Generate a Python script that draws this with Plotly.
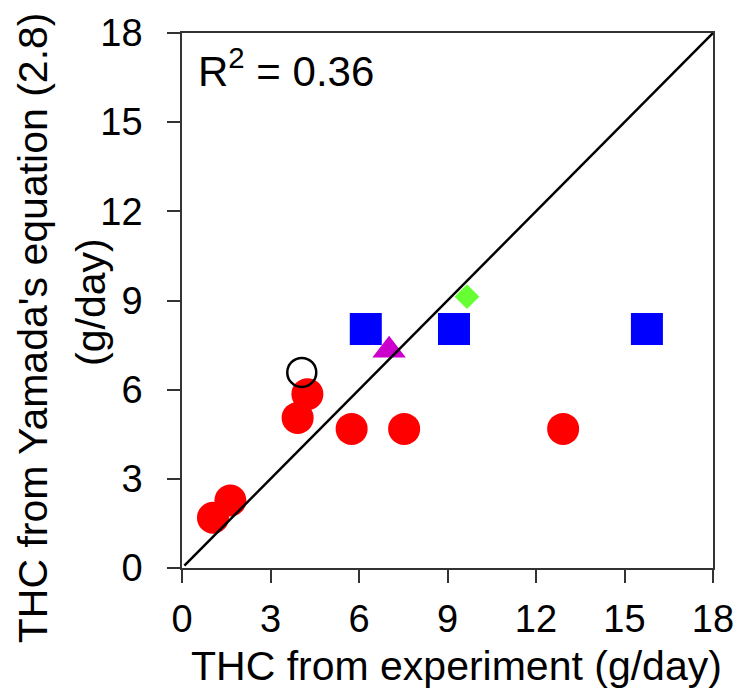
import plotly.graph_objects as go

# Data
red_x = [1.05, 1.64, 3.92, 4.25, 5.75, 7.53, 12.92]
red_y = [1.69, 2.27, 5.05, 5.85, 4.68, 4.68, 4.68]
open_x = [4.06]
open_y = [6.58]
blue_x = [6.23, 9.22, 15.76]
blue_y = [8.04, 8.04, 8.04]
tri_x = [7.02]
tri_y = [7.33]
dia_x = [9.66]
dia_y = [9.13]
line_x = [0.08, 18]
line_y = [0.08, 18]
tick_vals = [0, 3, 6, 9, 12, 15, 18]
tick_text = ["0", "3", "6", "9", "12", "15", "18"]

FONT = "Arial, 'Liberation Sans', sans-serif"

fig = go.Figure()
fig.add_trace(go.Scatter(x=red_x, y=red_y, mode="markers",
                         marker=dict(symbol="circle", size=32, color="#ff0000")))
fig.add_trace(go.Scatter(x=open_x, y=open_y, mode="markers",
                         marker=dict(symbol="circle-open", size=29, color="#000000",
                                     line=dict(width=2.5, color="#000000"))))
fig.add_trace(go.Scatter(x=blue_x, y=blue_y, mode="markers",
                         marker=dict(symbol="square", size=32, color="#0000ff")))
fig.add_trace(go.Scatter(x=tri_x, y=tri_y, mode="markers",
                         marker=dict(symbol="triangle-up", size=29, color="#cc00cc")))
fig.add_trace(go.Scatter(x=dia_x, y=dia_y, mode="markers",
                         marker=dict(symbol="diamond", size=19, color="#66ff33")))
fig.add_trace(go.Scatter(x=line_x, y=line_y, mode="lines",
                         line=dict(color="#000000", width=2.5)))

axis_common = dict(
    range=[0, 18], tickvals=tick_vals, ticktext=tick_text,
    showgrid=False, zeroline=False, showline=True, linecolor="#333333", linewidth=1.5,
    mirror=True, ticks="outside", ticklen=13, tickwidth=1.5, tickcolor="#333333",
    tickfont=dict(family=FONT, size=38, color="#000000"),
)

fig.update_layout(
    width=746, height=693,
    margin=dict(l=182, r=28, t=33, b=125),
    paper_bgcolor="white", plot_bgcolor="white",
    showlegend=False,
    xaxis=dict(**axis_common, ticklabelstandoff=4),
    yaxis=dict(**axis_common, ticklabelstandoff=17),
    annotations=[
        dict(text="R<sup>2</sup> = 0.36", xref="paper", yref="paper",
             x=0.026, y=0.989, xanchor="left", yanchor="top", showarrow=False,
             font=dict(family=FONT, size=42, color="#000000")),
        dict(text="THC from experiment (g/day)", xref="paper", yref="paper",
             x=0.517, y=-0.183, xanchor="center", yanchor="middle", showarrow=False,
             font=dict(family=FONT, size=41, color="#000000")),
        dict(text="THC from Yamada's equation (2.8)", xref="paper", yref="paper",
             x=(31 - 182) / 536, y=0.449, xanchor="center", yanchor="middle",
             textangle=-90, showarrow=False,
             font=dict(family=FONT, size=41, color="#000000")),
        dict(text="(g/day)", xref="paper", yref="paper",
             x=(90 - 182) / 536, y=0.497, xanchor="center", yanchor="middle",
             textangle=-90, showarrow=False,
             font=dict(family=FONT, size=41, color="#000000")),
    ],
)

fig.write_html("out.html")
